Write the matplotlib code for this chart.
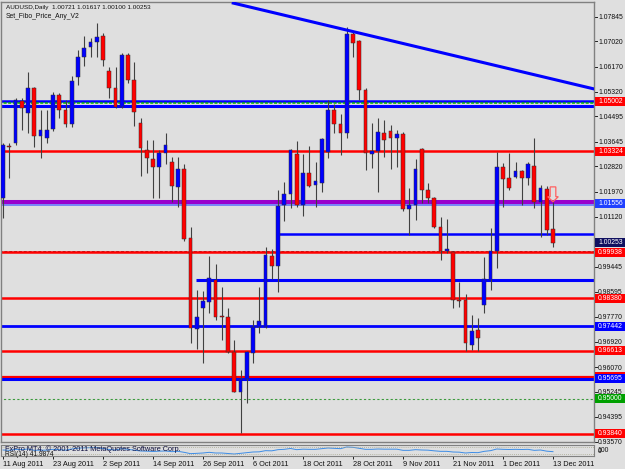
import matplotlib
matplotlib.use("Agg")
import matplotlib.pyplot as plt
import matplotlib.transforms as mtransforms
from matplotlib.patches import Rectangle, Polygon
import numpy as np

plt.rcParams['font.family'] = ['Liberation Sans', 'DejaVu Sans']

# --- data (AUDUSD daily, 11 Aug 2011 .. 13 Dec 2011) ---
date_labels = ['11 Aug 2011', '23 Aug 2011', '2 Sep 2011', '14 Sep 2011', '26 Sep 2011', '6 Oct 2011',
               '18 Oct 2011', '28 Oct 2011', '9 Nov 2011', '21 Nov 2011', '1 Dec 2011', '13 Dec 2011']
date_bars = [0, 8, 16, 24, 32, 40, 48, 56, 64, 72, 80, 88]

opens = [1.01753, 1.03500, 1.03601, 1.05012, 1.04609, 1.05449, 1.03836, 1.03769, 1.04072, 1.05214,
         1.04710, 1.04240, 1.05819, 1.06491, 1.06827, 1.06995, 1.07196, 1.06020, 1.05449, 1.04811,
         1.06558, 1.05718, 1.04273, 1.03366, 1.03064, 1.02795, 1.03265, 1.02963, 1.02123, 1.02728,
         1.00409, 0.97352, 0.98057, 0.98259, 0.98998, 0.97788, 0.97755, 0.96579, 0.95235, 0.95672,
         0.96545, 0.97419, 0.97419, 0.99804, 0.99468, 1.01518, 1.01888, 1.03232, 1.01518, 1.02593,
         1.02190, 1.02257, 1.03299, 1.04710, 1.04240, 1.03937, 1.07264, 1.07028, 1.05382, 1.03232,
         1.03332, 1.03937, 1.04004, 1.03769, 1.03904, 1.01384, 1.01518, 1.03400, 1.02022, 1.01753,
         1.00779, 0.99972, 0.99939, 0.98326, 0.98326, 0.96814, 0.97318, 0.98158, 0.98998, 0.99972,
         1.02795, 1.02425, 1.02459, 1.02660, 1.02425, 1.02828, 1.01619, 1.02056, 1.00721]
highs = [1.03601, 1.03601, 1.05113, 1.05113, 1.05987, 1.05480, 1.04710, 1.04710, 1.05315, 1.05281,
         1.05046, 1.05852, 1.06726, 1.07196, 1.07129, 1.07633, 1.07297, 1.06155, 1.06155, 1.06625,
         1.06625, 1.06323, 1.04441, 1.03702, 1.03702, 1.03366, 1.03937, 1.03131, 1.03131, 1.02896,
         1.00779, 0.98662, 0.98628, 0.99804, 0.99536, 0.98763, 0.98057, 0.96982, 0.95974, 0.96600,
         0.97654, 0.98763, 1.00107, 1.00040, 1.02022, 1.02291, 1.03400, 1.03668, 1.03232, 1.03500,
         1.02963, 1.03760, 1.05046, 1.04912, 1.04576, 1.07499, 1.07331, 1.07062, 1.05449, 1.04273,
         1.04441, 1.04374, 1.04206, 1.04038, 1.03971, 1.02089, 1.03064, 1.03433, 1.02257, 1.01787,
         1.01115, 1.01048, 0.99960, 0.98931, 0.98528, 0.97822, 0.97721, 0.99771, 1.00745, 1.03299,
         1.02929, 1.03265, 1.02963, 1.02694, 1.02963, 1.03769, 1.02190, 1.02156, 1.01617]
lows = [1.01081, 1.02425, 1.03534, 1.04038, 1.03937, 1.03467, 1.03097, 1.03601, 1.04004, 1.04441,
        1.04139, 1.04139, 1.05550, 1.06188, 1.06491, 1.06491, 1.06188, 1.05113, 1.04777, 1.04777,
        1.05617, 1.04172, 1.02492, 1.02593, 1.01753, 1.01753, 1.02896, 1.01619, 1.01451, 1.00308,
        0.96881, 0.96680, 0.96209, 0.97889, 0.97654, 0.96982, 0.96545, 0.95220, 0.93857, 0.94865,
        0.96209, 0.97217, 0.97400, 0.99032, 0.98595, 1.00980, 1.01417, 1.01451, 1.01148, 1.02123,
        1.01451, 1.01955, 1.03097, 1.03937, 1.03198, 1.03769, 1.06491, 1.05046, 1.02694, 1.02761,
        1.01955, 1.03131, 1.02728, 1.02795, 1.01316, 1.00510, 1.01014, 1.01585, 1.01585, 1.00745,
        0.99670, 0.99905, 0.98057, 0.98091, 0.96612, 0.96646, 0.96612, 0.97889, 0.98662, 0.99401,
        1.01451, 1.02022, 1.02425, 1.01518, 1.02190, 1.01417, 1.00443, 1.00510, 1.00100]
closes = [1.03534, 1.03467, 1.05046, 1.04777, 1.05449, 1.03836, 1.04038, 1.04038, 1.05214, 1.04710,
          1.04240, 1.05684, 1.06491, 1.06793, 1.06995, 1.07163, 1.06390, 1.05449, 1.04811, 1.06558,
          1.05718, 1.04643, 1.03433, 1.03097, 1.02795, 1.03265, 1.03534, 1.02156, 1.02728, 1.00376,
          0.97385, 0.97755, 0.98292, 0.99065, 0.97755, 0.97755, 0.96579, 0.95235, 0.95672, 0.96579,
          0.97419, 0.97620, 0.99838, 0.99468, 1.01484, 1.01888, 1.03366, 1.01518, 1.02593, 1.02156,
          1.02324, 1.03736, 1.04710, 1.04240, 1.03937, 1.07264, 1.06961, 1.05382, 1.03265, 1.03332,
          1.03971, 1.03702, 1.03769, 1.03904, 1.01384, 1.01518, 1.02728, 1.02022, 1.01753, 1.00779,
          0.99972, 1.00040, 0.98326, 0.98292, 0.96881, 0.97284, 0.97049, 0.99032, 0.99972, 1.02795,
          1.02392, 1.02089, 1.02660, 1.02425, 1.02896, 1.01619, 1.02089, 1.00678, 1.00253]

rsi = [52, 50, 56, 54, 58, 50, 51, 51, 56, 54, 51, 58, 63, 65, 66, 67, 60, 55, 52, 60,
       56, 51, 46, 45, 43, 45, 46, 42, 44, 38, 30, 32, 34, 38, 34, 34, 31, 28, 32, 36,
       40, 41, 48, 47, 54, 56, 61, 54, 57, 56, 56, 60, 64, 62, 60, 70, 68, 62, 56, 56,
       58, 57, 57, 57, 50, 50, 54, 52, 51, 47, 44, 44, 40, 39, 34, 37, 36, 44, 48, 58,
       56, 55, 56, 55, 56, 50, 52, 45, 41.9874]

# trend line anchors (bar index, price)
trend_x = [36.6, 94.6]
trend_y = [1.08315, 1.05416]

# horizontal levels: price, bar index where the line starts
level_price = [1.05012, 1.04945, 1.04861, 1.03324, 1.01619, 1.01512, 1.00544, 0.99972, 0.99938,
               0.98998, 0.98380, 0.97442, 0.96613, 0.95755, 0.95675, 0.95000, 0.93840]
level_start = [None, None, None, None, None, None, 44.2, None, None,
               30.9, None, None, None, None, None, None, None]
level_color = ['#0000FF', '#00B000', '#0000FF', '#FF0000', '#9900CC', '#5A6BFF', '#0000FF', '#404040',
               '#FF0000', '#0000FF', '#FF0000', '#0000FF', '#FF0000', '#FF0000', '#0000FF', '#3C9A3C',
               '#FF0000']
level_lw = [1.8, 1.1, 2.2, 1.8, 2.9, 1.1, 1.8, 0.7, 1.8, 2.2, 1.8, 2.0, 1.8, 1.6, 2.2, 0.8, 1.8]
level_ls = ['-', (0, (2, 1)), '-', '-', '-', '-', '-', (0, (3, 2)), '-', '-', '-', '-', '-', '-', '-',
            (0, (2, 2)), '-']

# axis price labels
tick_values = [1.07845, 1.07020, 1.06170, 1.05320, 1.04495, 1.03645, 1.02820, 1.01970, 1.01120,
               0.99445, 0.98595, 0.97770, 0.96920, 0.96070, 0.95245, 0.94395, 0.93570]
box_values = [1.05002, 1.03324, 1.01556, 1.00253, 0.99938, 0.98380, 0.97442, 0.96613, 0.95755,
              0.95695, 0.95000, 0.93840]
box_text = ['1.05002', '1.03324', '1.01556', '1.00253', '0.99938', '0.98380', '0.97442', '0.96613', '',
            '0.95695', '0.95000', '0.93840']
box_color = ['#FF0000', '#FF0000', '#2040FF', '#101060', '#FF0000', '#FF0000', '#0000FF', '#FF0000',
             '#FF0000', '#0000FF', '#00A000', '#FF0000']

BG = '#DFDFDF'
FS = 5.3
FS_AX = 4.95

fig = plt.figure(figsize=(6.25, 4.69), dpi=100, facecolor=BG)
ax = fig.add_axes([1 / 625, 1 - 442 / 469, 593 / 625, 440 / 469], facecolor=BG)
ax.set_xlim(-0.32, 94.56)
ax.set_ylim(0.93555, 1.08339)
ax.set_xticks([])
ax.set_yticks([])
for s in ax.spines.values():
    s.set_color('#808080')
    s.set_linewidth(1.0)

x = np.arange(len(opens))
o = np.array(opens)
c = np.array(closes)
h = np.array(highs)
l = np.array(lows)

# levels
for p, st, col, lw, ls in zip(level_price, level_start, level_color, level_lw, level_ls):
    x0 = -1 if st is None else st
    ax.plot([x0, 100], [p, p], color=col, lw=lw, ls=ls, zorder=1, solid_capstyle='butt')

# trend line
ax.plot(trend_x, trend_y, color='#0000FF', lw=2.2, zorder=4, solid_capstyle='butt')

# candles
ax.vlines(x, l, h, color='#404040', lw=0.8, zorder=2)
up = c >= o
bottom = np.minimum(o, c)
height = np.maximum(np.abs(c - o), 0.0003)
ax.bar(x, height, bottom=bottom, width=0.6, color=np.where(up, '#0000FF', '#FF0000'),
       edgecolor='#303030', linewidth=0.35, zorder=3)

# sell arrow above the last bar
tip = h[-1] + 0.0001
ax.add_patch(Polygon([[x[-1] - 0.45, tip + 0.0050], [x[-1] + 0.45, tip + 0.0050],
                      [x[-1] + 0.45, tip + 0.0017], [x[-1] + 0.85, tip + 0.0017],
                      [x[-1], tip], [x[-1] - 0.85, tip + 0.0017], [x[-1] - 0.45, tip + 0.0017]],
                     closed=True, facecolor='none', edgecolor='#FF6060', lw=0.9, zorder=5))

# right price scale
trans = mtransforms.blended_transform_factory(ax.transAxes, ax.transData)
for v in tick_values:
    ax.plot([1, 1 + 3 / 593], [v, v], transform=trans, clip_on=False, color='#202020', lw=0.7)
    ax.text(1 + 4 / 593, v - 0.0003, f'{v:.5f}', transform=trans, fontsize=FS_AX, color='#101010',
            ha='left', va='center', clip_on=False)
box_h = 9 * 0.000336
for v, t, col in zip(box_values, box_text, box_color):
    ax.add_patch(Rectangle((1 + 1 / 593, v - box_h / 2), 31 / 593, box_h, transform=trans,
                           facecolor=col, edgecolor='none', clip_on=False, zorder=6))
    if t:
        ax.text(1 + 4 / 593, v, t, transform=trans, fontsize=FS_AX, color='white',
                ha='left', va='center', clip_on=False, zorder=7)

# header texts
fig.text(6 / 625, 1 - 7.5 / 469, 'AUDUSD,Daily  1.00721 1.01617 1.00100 1.00253', fontsize=4.6,
         color='#101010', va='center', ha='left')
fig.text(6 / 625, 1 - 16.5 / 469, 'Set_Fibo_Price_Any_V2', fontsize=4.9, color='#101010',
         va='center', ha='left')

# indicator sub window
sub = fig.add_axes([1 / 625, 1 - 455.5 / 469, 593 / 625, 11 / 469], facecolor=BG)
sub.set_xlim(-0.32, 94.56)
sub.set_ylim(19, 85)
sub.plot(x, rsi, color='#3C8CE6', lw=0.7)
sub.axhline(70, color='#A8A890', lw=0.6, ls=(0, (1, 1.5)))
sub.axhline(30, color='#A8A890', lw=0.6, ls=(0, (1, 1.5)))
sub.set_yticks([])
for s in sub.spines.values():
    s.set_color('#808080')
    s.set_linewidth(0.8)
sub.set_xticks(date_bars)
sub.set_xticklabels(date_labels, ha='left', fontsize=FS, color='#101010')
sub.tick_params(axis='x', length=2.5, width=0.7, pad=1.5, color='#202020')
sub.text(4 / 593, 0.55, 'FxPro MT4, © 2001-2011 MetaQuotes Software Corp.', transform=sub.transAxes,
         fontsize=FS, color='#101040', va='center', ha='left')
sub.text(4 / 593, 0.05, 'RSI(14) 41.9874', transform=sub.transAxes, fontsize=FS - 0.5,
         color='#101010', va='center', ha='left')
fig.text(597 / 625, 1 - 450 / 469, '100', fontsize=FS_AX, color='#101010', va='center', ha='left')
fig.text(598 / 625, 1 - 451 / 469, '0', fontsize=FS_AX, color='#101010', va='center', ha='left')

fig.savefig('out.png', dpi=100, facecolor=BG)
